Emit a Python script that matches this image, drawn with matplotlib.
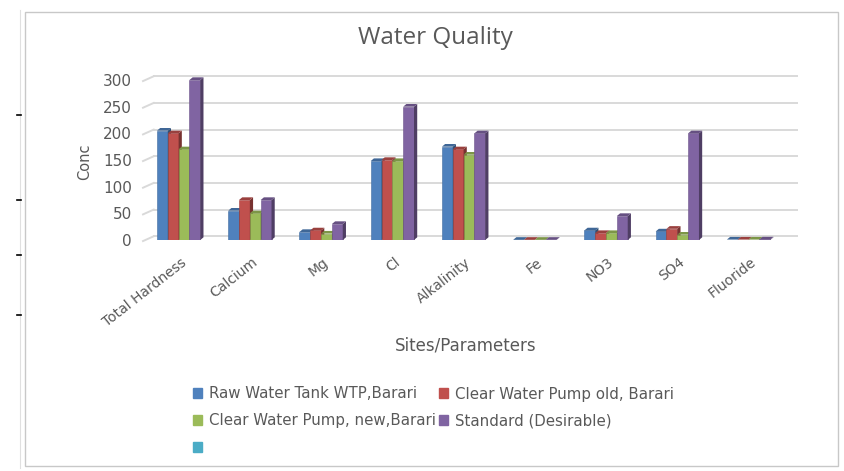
import numpy as np
import matplotlib
matplotlib.use("Agg")
import matplotlib.pyplot as plt
from matplotlib.patches import Polygon, Rectangle, Patch
from matplotlib.lines import Line2D

params = ["Total Hardness", "Calcium", "Mg", "Cl", "Alkalinity", "Fe", "NO3", "SO4", "Fluoride"]
series = ["Raw Water Tank WTP,Barari", "Clear Water Pump old, Barari",
          "Clear Water Pump, new,Barari", "Standard (Desirable)"]
raw_wtp = [205, 55, 15, 148, 175, 0.3, 18, 16, 0.8]
pump_old = [200, 75, 18, 150, 170, 0.3, 13, 21, 0.8]
pump_new = [170, 50, 12, 148, 160, 0.3, 13, 10, 0.8]
standard = [300, 75, 30, 250, 200, 0.3, 45, 200, 1.0]
yticks = [0, 50, 100, 150, 200, 250, 300]

colors = ["#4F81BD", "#C0504D", "#9BBB59", "#8064A2"]
extra_color = "#4BACC6"
TXT = "#595959"
GRID = "#D9D9D9"


def shade(c, f):
    rgb = np.array(matplotlib.colors.to_rgb(c))
    return tuple(np.clip(rgb * f, 0, 1))


fig = plt.figure(figsize=(8.45, 4.71), dpi=100)
fig.patch.set_facecolor("white")

# chart frame + ruler bits on the left
fig.add_artist(Rectangle((25 / 845, 1 - 466 / 471), 813 / 845, 454 / 471,
                         transform=fig.transFigure, fill=False, ec="#C8C8C8", lw=1.0))
fig.add_artist(Line2D([20 / 845, 20 / 845], [1 - 10 / 471, 1 - 468 / 471],
                      transform=fig.transFigure, color="#E0E0E0", lw=0.8))
for yy in (115, 200, 255, 315):
    fig.add_artist(Line2D([17 / 845, 21 / 845], [1 - yy / 471] * 2,
                          transform=fig.transFigure, color="black", lw=1.2))

ax = fig.add_axes([143 / 845, 1 - 240 / 471, 654 / 845, 160 / 471])
ax.set_xlim(-0.5, len(params) - 0.32)
ax.set_ylim(0, 300)
ax.set_yticks(yticks)
for s in ax.spines.values():
    s.set_visible(False)
ax.tick_params(length=0, colors=TXT, labelsize=11, pad=8)
ax.set_xticks([])

# back-wall gridlines with a short floor diagonal on the left
lift = 7
for v in yticks:
    ax.add_line(Line2D([-0.35, len(params) - 0.32], [v + lift, v + lift],
                       color=GRID, lw=1.4, zorder=1, clip_on=False))
    ax.add_line(Line2D([-0.5, -0.35], [v - 2, v + lift],
                       color=GRID, lw=1.4, zorder=1, clip_on=False))

x = np.arange(len(params))
w = 0.152
dx, dy = 0.045, 5   # depth of the 3-D columns
for i, (vals, c) in enumerate(zip([raw_wtp, pump_old, pump_new, standard], colors)):
    xs = x + (i - 1.5) * w
    ax.bar(xs, vals, width=w, color=c, edgecolor=shade(c, 0.85), lw=0.4, zorder=3)
    for xc, v in zip(xs, vals):
        r = xc + w / 2
        l = xc - w / 2
        ax.add_patch(Polygon([(r, 0), (r + dx, dy), (r + dx, v + dy), (r, v)],
                             closed=True, fc=shade(c, 0.62), ec="none", zorder=3,
                             clip_on=False))
        ax.add_patch(Polygon([(l, v), (r, v), (r + dx, v + dy), (l + dx, v + dy)],
                             closed=True, fc=shade(c, 0.8), ec="none", zorder=3,
                             clip_on=False))

for xc, name in zip(x, params):
    ax.annotate(name, (xc, 0), xytext=(1, -11), textcoords="offset points",
                rotation=38, rotation_mode="anchor", ha="right", va="top",
                fontsize=10, color=TXT)

fig.text(435 / 845, 1 - 38 / 471, "Water Quality", ha="center", va="center",
         fontsize=17.5, color=TXT, family="Open Sans")
fig.text(85 / 845, 1 - 162 / 471, "Conc", rotation=90, ha="center", va="center",
         fontsize=10.5, color=TXT)
fig.text(466 / 845, 1 - 346 / 471, "Sites/Parameters", ha="center", va="center",
         fontsize=12, color=TXT)

h = [Patch(color=c) for c in colors] + [Patch(color=extra_color)]
labels = series + [""]
order = [0, 2, 4, 1, 3]
fig.legend([h[k] for k in order], [labels[k] for k in order], ncol=2,
           loc="upper left", bbox_to_anchor=(186 / 845, 1 - 379 / 471),
           frameon=False, fontsize=10.8, labelcolor=TXT,
           handlelength=0.6, handleheight=0.6, handletextpad=0.45,
           columnspacing=0.2, labelspacing=0.8, borderpad=0)

fig.savefig("out.png", dpi=100)
